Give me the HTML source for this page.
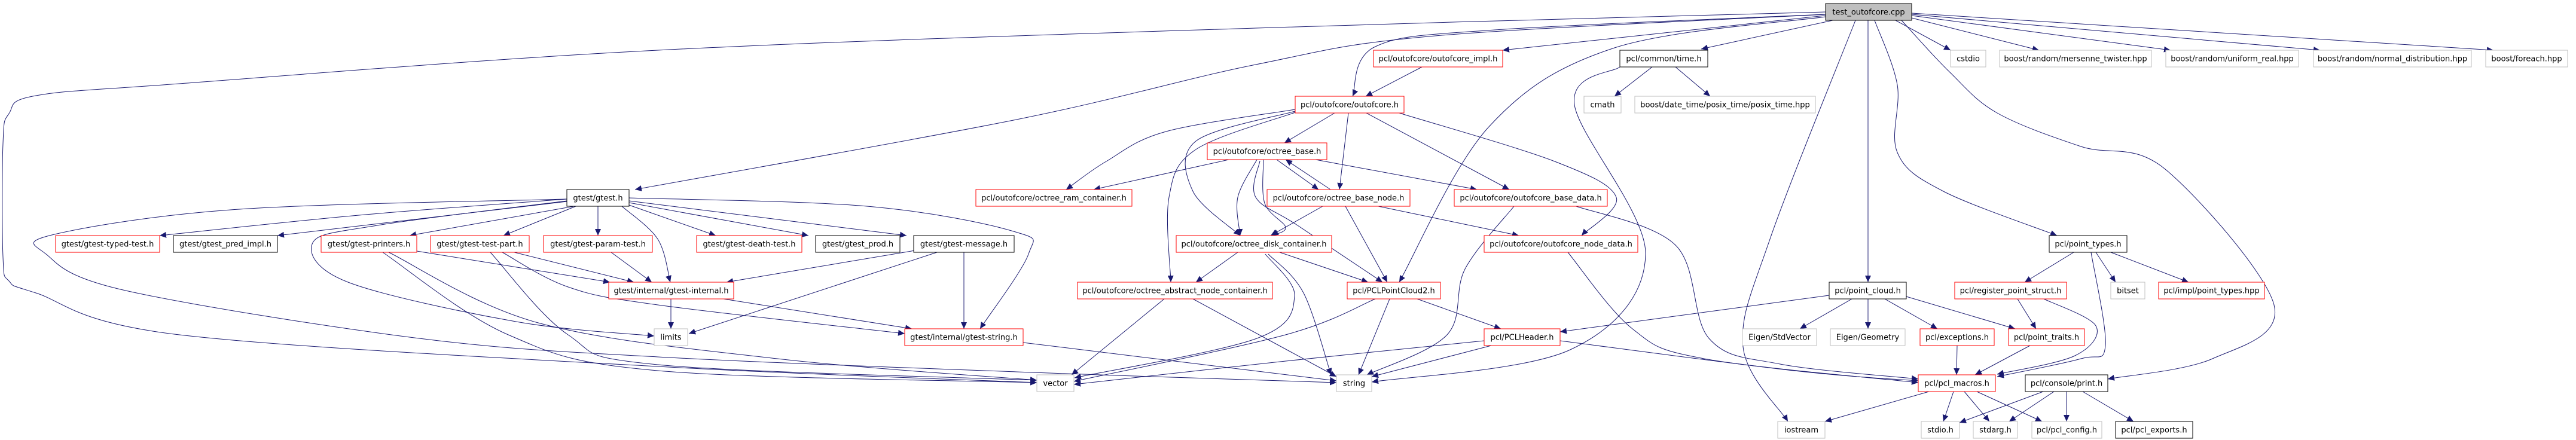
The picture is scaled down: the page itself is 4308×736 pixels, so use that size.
<!DOCTYPE html>
<html><head><meta charset="utf-8"><style>
html,body{margin:0;padding:0;background:#fff;}
svg{display:block;}
text{font-family:"DejaVu Sans","Liberation Sans",sans-serif;font-size:13px;fill:#000;}
</style></head><body>
<svg id="g" xmlns="http://www.w3.org/2000/svg" width="4308" height="736" viewBox="0 0 4308 736">
<defs><marker id="a" markerUnits="userSpaceOnUse" markerWidth="12" markerHeight="10" refX="11" refY="5" orient="auto"><path d="M0,0 L11,5 L0,10 z" fill="#191970"/></marker></defs>
<g id="edges" fill="none" stroke="#191970" stroke-width="1"></g>
<g id="nodes">
<rect x="3053" y="6" width="144" height="28" fill="#bfbfbf" stroke="#000"/><text x="3125" y="24.5" text-anchor="middle">test_outofcore.cpp</text>
<rect x="948" y="317" width="104" height="28" fill="#fff" stroke="#000"/><text x="1000" y="335.5" text-anchor="middle">gtest/gtest.h</text>
<rect x="93" y="394" width="174" height="28" fill="#fff" stroke="#f00"/><text x="180" y="412.5" text-anchor="middle">gtest/gtest-typed-test.h</text>
<rect x="290" y="394" width="174" height="28" fill="#fff" stroke="#000"/><text x="377" y="412.5" text-anchor="middle">gtest/gtest_pred_impl.h</text>
<rect x="537" y="394" width="160" height="28" fill="#fff" stroke="#f00"/><text x="617" y="412.5" text-anchor="middle">gtest/gtest-printers.h</text>
<rect x="720" y="394" width="165" height="28" fill="#fff" stroke="#f00"/><text x="802.5" y="412.5" text-anchor="middle">gtest/gtest-test-part.h</text>
<rect x="909" y="394" width="182" height="28" fill="#fff" stroke="#f00"/><text x="1000" y="412.5" text-anchor="middle">gtest/gtest-param-test.h</text>
<rect x="1018" y="472" width="209" height="28" fill="#fff" stroke="#f00"/><text x="1122.5" y="490.5" text-anchor="middle">gtest/internal/gtest-internal.h</text>
<rect x="1165" y="394" width="176" height="28" fill="#fff" stroke="#f00"/><text x="1253" y="412.5" text-anchor="middle">gtest/gtest-death-test.h</text>
<rect x="1364" y="394" width="141" height="28" fill="#fff" stroke="#000"/><text x="1434.5" y="412.5" text-anchor="middle">gtest/gtest_prod.h</text>
<rect x="1528" y="394" width="168" height="28" fill="#fff" stroke="#000"/><text x="1612" y="412.5" text-anchor="middle">gtest/gtest-message.h</text>
<rect x="1094" y="550" width="56" height="28" fill="#fff" stroke="#bfbfbf"/><text x="1122" y="568.5" text-anchor="middle">limits</text>
<rect x="1513" y="550" width="198" height="28" fill="#fff" stroke="#f00"/><text x="1612" y="568.5" text-anchor="middle">gtest/internal/gtest-string.h</text>
<rect x="1734" y="627" width="62" height="28" fill="#fff" stroke="#bfbfbf"/><text x="1765" y="645.5" text-anchor="middle">vector</text>
<rect x="1632" y="317" width="261" height="28" fill="#fff" stroke="#f00"/><text x="1762.5" y="335.5" text-anchor="middle">pcl/outofcore/octree_ram_container.h</text>
<rect x="1802" y="472" width="326" height="28" fill="#fff" stroke="#f00"/><text x="1965" y="490.5" text-anchor="middle">pcl/outofcore/octree_abstract_node_container.h</text>
<rect x="1967" y="394" width="260" height="28" fill="#fff" stroke="#f00"/><text x="2097" y="412.5" text-anchor="middle">pcl/outofcore/octree_disk_container.h</text>
<rect x="2019" y="239" width="200" height="28" fill="#fff" stroke="#f00"/><text x="2119" y="257.5" text-anchor="middle">pcl/outofcore/octree_base.h</text>
<rect x="2119" y="317" width="239" height="28" fill="#fff" stroke="#f00"/><text x="2238.5" y="335.5" text-anchor="middle">pcl/outofcore/octree_base_node.h</text>
<rect x="2297" y="84" width="216" height="28" fill="#fff" stroke="#f00"/><text x="2405" y="102.5" text-anchor="middle">pcl/outofcore/outofcore_impl.h</text>
<rect x="2709" y="84" width="147" height="28" fill="#fff" stroke="#000"/><text x="2782.5" y="102.5" text-anchor="middle">pcl/common/time.h</text>
<rect x="2166" y="161" width="182" height="28" fill="#fff" stroke="#f00"/><text x="2257" y="179.5" text-anchor="middle">pcl/outofcore/outofcore.h</text>
<rect x="2649" y="161" width="62" height="28" fill="#fff" stroke="#bfbfbf"/><text x="2680" y="179.5" text-anchor="middle">cmath</text>
<rect x="2734" y="161" width="302" height="28" fill="#fff" stroke="#bfbfbf"/><text x="2885" y="179.5" text-anchor="middle">boost/date_time/posix_time/posix_time.hpp</text>
<rect x="2432" y="317" width="256" height="28" fill="#fff" stroke="#f00"/><text x="2560" y="335.5" text-anchor="middle">pcl/outofcore/outofcore_base_data.h</text>
<rect x="2482" y="394" width="257" height="28" fill="#fff" stroke="#f00"/><text x="2610.5" y="412.5" text-anchor="middle">pcl/outofcore/outofcore_node_data.h</text>
<rect x="2253" y="472" width="156" height="28" fill="#fff" stroke="#f00"/><text x="2331" y="490.5" text-anchor="middle">pcl/PCLPointCloud2.h</text>
<rect x="2482" y="550" width="127" height="28" fill="#fff" stroke="#f00"/><text x="2545.5" y="568.5" text-anchor="middle">pcl/PCLHeader.h</text>
<rect x="2235" y="627" width="59" height="28" fill="#fff" stroke="#bfbfbf"/><text x="2264.5" y="645.5" text-anchor="middle">string</text>
<rect x="3059" y="472" width="129" height="28" fill="#fff" stroke="#000"/><text x="3123.5" y="490.5" text-anchor="middle">pcl/point_cloud.h</text>
<rect x="2914" y="550" width="124" height="28" fill="#fff" stroke="#bfbfbf"/><text x="2976" y="568.5" text-anchor="middle">Eigen/StdVector</text>
<rect x="3061" y="550" width="125" height="28" fill="#fff" stroke="#bfbfbf"/><text x="3123.5" y="568.5" text-anchor="middle">Eigen/Geometry</text>
<rect x="2973" y="705" width="79" height="28" fill="#fff" stroke="#bfbfbf"/><text x="3012.5" y="723.5" text-anchor="middle">iostream</text>
<rect x="3262" y="84" width="59" height="28" fill="#fff" stroke="#bfbfbf"/><text x="3291.5" y="102.5" text-anchor="middle">cstdio</text>
<rect x="3344" y="84" width="254" height="28" fill="#fff" stroke="#bfbfbf"/><text x="3471" y="102.5" text-anchor="middle">boost/random/mersenne_twister.hpp</text>
<rect x="3622" y="84" width="222" height="28" fill="#fff" stroke="#bfbfbf"/><text x="3733" y="102.5" text-anchor="middle">boost/random/uniform_real.hpp</text>
<rect x="3869" y="84" width="264" height="28" fill="#fff" stroke="#bfbfbf"/><text x="4001" y="102.5" text-anchor="middle">boost/random/normal_distribution.hpp</text>
<rect x="4157" y="84" width="137" height="28" fill="#fff" stroke="#bfbfbf"/><text x="4225.5" y="102.5" text-anchor="middle">boost/foreach.hpp</text>
<rect x="3427" y="394" width="130" height="28" fill="#fff" stroke="#000"/><text x="3492" y="412.5" text-anchor="middle">pcl/point_types.h</text>
<rect x="3269" y="472" width="187" height="28" fill="#fff" stroke="#f00"/><text x="3362.5" y="490.5" text-anchor="middle">pcl/register_point_struct.h</text>
<rect x="3530" y="472" width="57" height="28" fill="#fff" stroke="#bfbfbf"/><text x="3558.5" y="490.5" text-anchor="middle">bitset</text>
<rect x="3610" y="472" width="177" height="28" fill="#fff" stroke="#f00"/><text x="3698.5" y="490.5" text-anchor="middle">pcl/impl/point_types.hpp</text>
<rect x="3211" y="550" width="124" height="28" fill="#fff" stroke="#f00"/><text x="3273" y="568.5" text-anchor="middle">pcl/exceptions.h</text>
<rect x="3359" y="550" width="127" height="28" fill="#fff" stroke="#f00"/><text x="3422.5" y="568.5" text-anchor="middle">pcl/point_traits.h</text>
<rect x="3208" y="627" width="129" height="28" fill="#fff" stroke="#f00"/><text x="3272.5" y="645.5" text-anchor="middle">pcl/pcl_macros.h</text>
<rect x="3387" y="627" width="138" height="28" fill="#fff" stroke="#000"/><text x="3456" y="645.5" text-anchor="middle">pcl/console/print.h</text>
<rect x="3213" y="705" width="64" height="28" fill="#fff" stroke="#bfbfbf"/><text x="3245" y="723.5" text-anchor="middle">stdio.h</text>
<rect x="3300" y="705" width="74" height="28" fill="#fff" stroke="#bfbfbf"/><text x="3337" y="723.5" text-anchor="middle">stdarg.h</text>
<rect x="3398" y="705" width="117" height="28" fill="#fff" stroke="#bfbfbf"/><text x="3456.5" y="723.5" text-anchor="middle">pcl/pcl_config.h</text>
<rect x="3538" y="705" width="129" height="28" fill="#fff" stroke="#000"/><text x="3602.5" y="723.5" text-anchor="middle">pcl/pcl_exports.h</text>
</g>
</svg>
<script>
var E=[
[[3053,24],[2400,60],[2100,108],[1700,200],[1062,317]],
[[3053,20],[2100,47],[1100,84],[300,140],[60,160],[15,190],[5,240],[5,430],[15,470],[60,490],[300,560],[1100,613],[1734,640]],
[[3053,24],[2500,50],[2300,78],[2262,161]],
[[3053,26],[2513,84]],
[[3065,34],[2845,82]],
[[3053,28],[2700,80],[2490,212],[2340,472]],
[[3103,34],[2960,400],[2915,580],[2990,705]],
[[3124,34],[3124,472]],
[[3135,34],[3173,142],[3173,255],[3250,320],[3440,394]],
[[3180,34],[3260,120],[3340,189],[3480,245],[3621,283],[3803,510],[3700,600],[3525,634]],
[[3170,34],[3262,84]],
[[3197,30],[3410,84]],
[[3197,26],[3630,84]],
[[3197,24],[3880,84]],
[[3197,22],[4170,84]],
[[2378,112],[2284,161]],
[[2763,112],[2700,161]],
[[2802,112],[2860,161]],
[[2709,112],[2633,175],[2752,425],[2626,585],[2294,639]],
[[2232,189],[2148,239]],
[[2255,189],[2240,317]],
[[2285,189],[2524,317]],
[[2340,189],[2600,270],[2703,330],[2645,394]],
[[2166,183],[1950,220],[1850,270],[1783,317]],
[[2166,186],[2000,236],[1995,320],[2074,394]],
[[2166,188],[2000,250],[1955,330],[1958,472]],
[[2055,267],[1829,317]],
[[2102,267],[2070,330],[2074,394]],
[[2113,267],[2115,340],[2150,380],[2127,394]],
[[2135,267],[2205,317]],
[[2225,317],[2150,267]],
[[2200,267],[2470,317]],
[[2107,269],[2100,330],[2170,377],[2312,472]],
[[2212,345],[2125,394]],
[[2250,345],[2320,472]],
[[2305,345],[2540,394]],
[[2070,422],[2000,472]],
[[2140,422],[2288,472]],
[[2121,425],[2180,490],[2226,627]],
[[2116,425],[2165,495],[2102,566],[1797,632]],
[[1947,500],[1792,627]],
[[1995,500],[2235,630]],
[[2300,500],[2150,560],[1796,638]],
[[2324,500],[2272,627]],
[[2370,500],[2510,550]],
[[2482,570],[2150,604],[1796,643]],
[[2494,578],[2294,630]],
[[2609,570],[3000,620],[3208,637]],
[[2532,345],[2450,450],[2420,560],[2286,627]],
[[2633,344],[2802,410],[2858,566],[2977,609],[3208,634]],
[[2622,422],[2730,550],[2850,600],[3208,640]],
[[3059,494],[2609,555]],
[[3097,500],[3010,550]],
[[3124,500],[3124,550]],
[[3152,500],[3240,550]],
[[3188,496],[3370,550]],
[[3468,422],[3386,472]],
[[3505,422],[3538,472]],
[[3530,422],[3660,472]],
[[3497,422],[3521,578],[3480,600],[3340,630]],
[[3374,500],[3405,550]],
[[3418,500],[3505,545],[3470,595],[3340,626]],
[[3273,578],[3272,627]],
[[3395,578],[3303,627]],
[[3226,655],[3052,705]],
[[3267,655],[3250,705]],
[[3285,655],[3327,705]],
[[3306,655],[3415,705]],
[[3417,655],[3277,707]],
[[3435,655],[3360,705]],
[[3456,655],[3456,705]],
[[3483,655],[3568,705]],
[[948,333],[600,360],[267,394]],
[[948,337],[464,394]],
[[960,345],[685,394]],
[[963,345],[842,394]],
[[1000,345],[1000,394]],
[[1040,345],[1100,400],[1121,472]],
[[1052,343],[1197,394]],
[[1052,339],[1352,394]],
[[1052,336],[1516,394]],
[[1052,331],[1450,345],[1695,387],[1720,425],[1639,550]],
[[948,336],[631,377],[523,406],[582,472],[863,538],[1094,562]],
[[948,333],[400,350],[91,392],[77,425],[210,486],[701,566],[1100,597],[1700,622],[2235,640]],
[[697,420],[1020,472]],
[[640,422],[850,560],[1100,620],[1734,640]],
[[650,422],[900,540],[1300,600],[1734,636]],
[[860,422],[1060,472]],
[[820,422],[950,560],[1100,610],[1734,636]],
[[840,422],[950,480],[1100,510],[1513,558]],
[[1022,422],[1090,472]],
[[1530,419],[1215,472]],
[[1567,422],[1152,558]],
[[1612,422],[1612,550]],
[[1122,500],[1122,550]],
[[1210,500],[1525,550]],
[[1711,573],[2235,637]]
];
function path(p){
 var d="M"+p[0][0]+","+p[0][1];
 if(p.length==2){return d+" L"+p[1][0]+","+p[1][1];}
 for(var i=0;i<p.length-1;i++){
  var p0=p[i>0?i-1:i],p1=p[i],p2=p[i+1],p3=p[i+2<p.length?i+2:i+1];
  var c1=[p1[0]+(p2[0]-p0[0])/6,p1[1]+(p2[1]-p0[1])/6];
  var c2=[p2[0]-(p3[0]-p1[0])/6,p2[1]-(p3[1]-p1[1])/6];
  d+=" C"+c1[0].toFixed(1)+","+c1[1].toFixed(1)+" "+c2[0].toFixed(1)+","+c2[1].toFixed(1)+" "+p2[0]+","+p2[1];
 }
 return d;
}
var g=document.getElementById("edges"),s="";
for(var i=0;i<E.length;i++){s+='<path d="'+path(E[i])+'" marker-end="url(#a)"/>';}
g.innerHTML=s;
</script>
</body></html>
